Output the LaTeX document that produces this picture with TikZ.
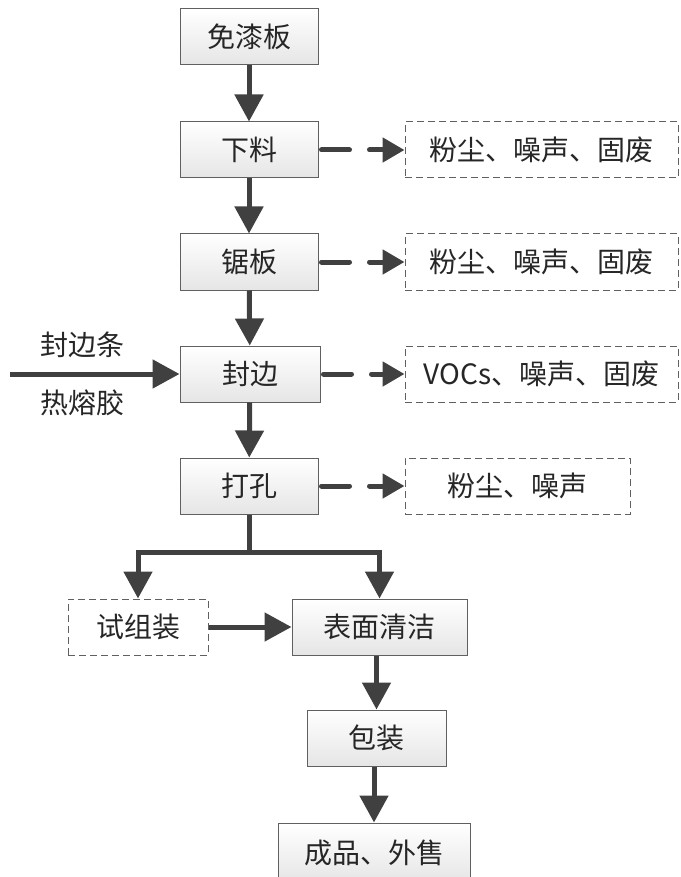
\documentclass[tikz,border=0pt]{standalone}
\usepackage{fontspec}
\newfontfamily\cjk{Noto Sans CJK SC}
\usetikzlibrary{arrows.meta}
\definecolor{arr}{HTML}{404040}
\definecolor{bord}{HTML}{606060}
\tikzset{
  box/.style={draw=bord, line width=1pt, top color=white, bottom color=black!10, minimum height=56pt, inner sep=0pt, font=\cjk\fontsize{28}{32}\selectfont, text=black!85},
  dbox/.style={draw=bord, line width=1pt, dashed, dash pattern=on 7pt off 4pt, fill=white, minimum height=56pt, inner sep=0pt, font=\cjk\fontsize{28}{32}\selectfont, text=black!85},
  flow/.style={draw=arr, line width=5pt, -{Triangle[length=27pt,width=28pt]}},
  dflow/.style={draw=arr, line width=5pt, line cap=round, dash pattern=on 28pt off 20pt, -{Triangle[length=22pt,width=24pt]}},
  lbl/.style={font=\cjk\fontsize{28}{32}\selectfont, text=black!85, inner sep=0pt}
}
\begin{document}
\begin{tikzpicture}[x=1pt,y=-1pt]
\useasboundingbox (0,0) rectangle (680,877);
\node[box, minimum width=138pt] (a) at (249,37) {免漆板};
\node[box, minimum width=138pt] (b) at (249,150) {下料};
\node[box, minimum width=138pt] (c) at (249,262) {锯板};
\node[box, minimum width=140pt] (d) at (250,374) {封边};
\node[box, minimum width=138pt] (e) at (249,486) {打孔};
\node[dbox, minimum width=140pt] (f) at (138,627) {试组装};
\node[box, minimum width=175pt] (g) at (379.5,627) {表面清洁};
\node[box, minimum width=139pt] (h) at (376.5,738) {包装};
\node[box, minimum width=192pt, minimum height=60pt] (i) at (374,853) {成品、外售};
\node[dbox, minimum width=273pt] (b2) at (541.5,150) {粉尘、噪声、固废};
\node[dbox, minimum width=273pt] (c2) at (541.5,262) {粉尘、噪声、固废};
\node[dbox, minimum width=273pt] (d2) at (541.5,374) {VOCs、噪声、固废};
\node[dbox, minimum width=225pt] (e2) at (517.5,486) {粉尘、噪声};
\coordinate (in) at (10,374);
\node[lbl] (l1) at (82,345) {封边条};
\node[lbl] (l2) at (82,403) {热熔胶};
\coordinate (j) at (249,552);
\coordinate (jl) at (138,552);
\coordinate (jr) at (379.5,552);
\draw[flow] (a) -- (b);
\draw[flow] (b) -- (c);
\draw[flow] (c) -- (d);
\draw[flow] (d) -- (e);
\draw[flow] (in) -- (d);
\draw[draw=arr, line width=5pt] (e.south) -- (j);
\draw[flow] (j) -- (jl) -- (f);
\draw[flow] (j) -- (jr) -- (g);
\draw[flow] (f) -- (g);
\draw[flow] (g.south -| h) -- (h);
\draw[flow] (h.south -| i) -- (i);
\draw[dflow] (b.east) ++(3,0) -- (b2.west);
\draw[dflow] (c.east) ++(3,0) -- (c2.west);
\draw[dflow] (d.east) ++(3,0) -- (d2.west);
\draw[dflow] (e.east) ++(3,0) -- (e2.west);
\end{tikzpicture}
\end{document}
